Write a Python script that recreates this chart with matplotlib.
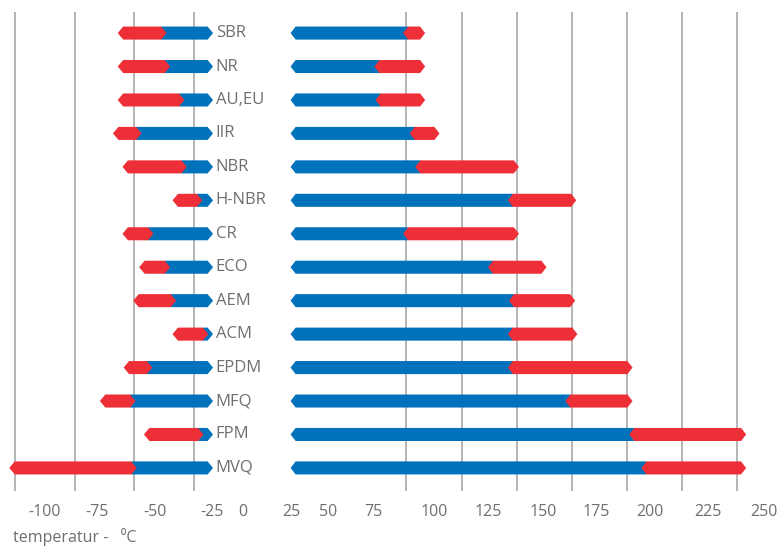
import matplotlib
matplotlib.use("Agg")
import matplotlib.pyplot as plt
from matplotlib.patches import Polygon

# elastomer temperature ranges (deg C)
materials = ["SBR", "NR", "AU,EU", "IIR", "NBR", "H-NBR", "CR", "ECO",
             "AEM", "ACM", "EPDM", "MFQ", "FPM", "MVQ"]
low_short = [-57, -57, -57, -59, -55, -34, -55, -48, -50.5, -34, -54.5, -64.5, -46, -102.5]
low_cont = [-36.5, -35, -29, -47, -28, -21.5, -42, -35, -32.5, -19, -42.5, -49.5, -21, -49]
high_cont = [98.5, 85.5, 86, 101.5, 104, 146, 98.5, 137, 146.5, 146, 146, 172, 201, 206.5]
high_short = [108.5, 108.5, 108.5, 115, 151, 177, 151, 163.5, 176.5, 177.5, 202.5, 202.5, 254, 254]
left_end = -17      # where the left (cold) bars stop
right_start = 47.5  # where the right (hot) bars start

left_ticks = ["-100", "-75", "-50", "-25", "0"]
right_ticks = ["25", "50", "75", "100", "125", "150", "175", "200", "225", "250"]
left_grid = [-100, -75, -50, -25]
right_grid = [100, 125, 150, 175, 200, 225, 250]

# label positions (the original labels sit off their grid lines)
left_tick_at = [-87.5, -65.7, -41.4, -17.4, -4.4]
right_tick_at = [47.7, 64.5, 85.0, 112.7, 137.0, 161.9, 185.9, 210.4, 236.7, 262.1]

BLUE = "#0071bb"
RED = "#ef2f37"
GREY = "#6d6e70"
GRID = "#a0a0a0"
TIP = 2.3
HALF = 0.195

plt.rcParams["font.family"] = ["Open Sans", "DejaVu Sans"]


def hex_bar(ax, x0, x1, y, color, z):
    pts = [(x0, y), (x0 + TIP, y - HALF), (x1 - TIP, y - HALF),
           (x1, y), (x1 - TIP, y + HALF), (x0 + TIP, y + HALF)]
    ax.add_patch(Polygon(pts, closed=True, facecolor=color, edgecolor="none", zorder=z))


fig = plt.figure(figsize=(7.81, 5.46), dpi=100)
bottom = 1 - 491 / 546
height = 479 / 546
ax_l = fig.add_axes([0, bottom, 280 / 781, height])
ax_r = fig.add_axes([280 / 781, bottom, 501 / 781, height])

for ax in (ax_l, ax_r):
    ax.set_ylim(13.69, -0.63)
    ax.set_yticks([])
    for s in ax.spines.values():
        s.set_visible(False)
    ax.tick_params(axis="x", length=0, pad=9, labelsize=11.5, labelcolor=GREY)
    ax.patch.set_alpha(0)

ax_l.set_xlim(-106.4, 11.1)
ax_r.set_xlim(42.7, 269.8)

for g in left_grid:
    ax_l.axvline(g, color=GRID, lw=1.1, zorder=0)
for g in right_grid:
    ax_r.axvline(g, color=GRID, lw=1.1, zorder=0)

for i, name in enumerate(materials):
    # cold side
    hex_bar(ax_l, low_cont[i] - 2 * TIP, left_end, i, BLUE, 2)
    hex_bar(ax_l, low_short[i], low_cont[i], i, RED, 3)
    ax_l.annotate(name, (left_end, i), xytext=(2, 0), textcoords="offset points",
                  ha="left", va="center", fontsize=12, color=GREY,
                  annotation_clip=False, zorder=5)
    # hot side
    hex_bar(ax_r, right_start, high_cont[i] + 2 * TIP, i, BLUE, 2)
    hex_bar(ax_r, high_cont[i], high_short[i], i, RED, 3)

ax_l.set_xticks(left_tick_at, left_ticks)
ax_r.set_xticks(right_tick_at, right_ticks)

fig.text(13 / 781, 1 - 537 / 546, "temperatur -   \u2070C", fontsize=11.5,
         color=GREY, ha="left", va="center")

fig.savefig("out.png", dpi=100)
